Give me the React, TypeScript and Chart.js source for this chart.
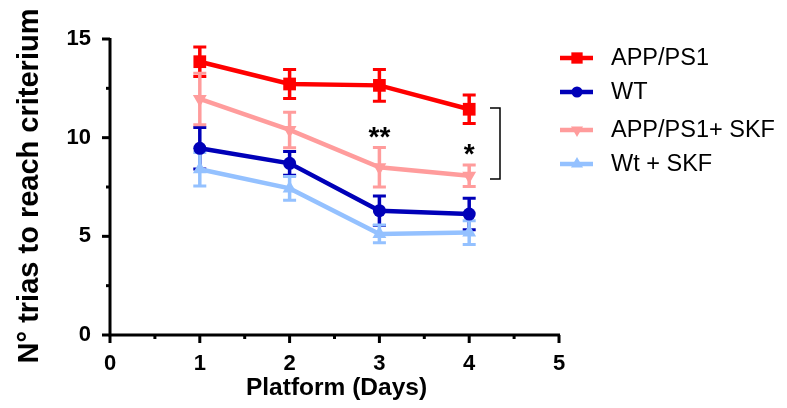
import React, { useEffect, useRef } from "react";
import { Chart, registerables } from "chart.js";

Chart.register(...registerables);

const days = [1, 2, 3, 4];
const xTicks = [0, 1, 2, 3, 4, 5];
const yTicks = [0, 5, 10, 15];

const seriesNames = ["APP/PS1", "WT", "APP/PS1+ SKF", "Wt + SKF"];
const appMean = [13.85, 12.72, 12.65, 11.44];
const appSem = [0.75, 0.74, 0.8, 0.72];
const wtMean = [9.46, 8.7, 6.3, 6.13];
const wtSem = [1.05, 0.6, 0.75, 0.8];
const appSkfMean = [11.96, 10.39, 8.5, 8.07];
const appSkfSem = [1.3, 0.9, 1.0, 0.55];
const wtSkfMean = [8.4, 7.43, 5.12, 5.19];
const wtSkfSem = [0.85, 0.6, 0.45, 0.6];

const colors = ["#ff0000", "#0000b8", "#ff9c9c", "#94c1ff"];
const pointStyles = ["rect", "circle", "triangle", "triangle"];
const pointRotations = [0, 0, 180, 0];
const pointRadii = [9, 6.5, 8, 8];

const means = [appMean, wtMean, appSkfMean, wtSkfMean];
const sems = [appSem, wtSem, appSkfSem, wtSkfSem];

const FONT = "Arial, 'Liberation Sans', sans-serif";

function drawMarker(ctx: CanvasRenderingContext2D, style: string, rot: number, x: number, y: number, r: number, color: string) {
  ctx.save();
  ctx.fillStyle = color;
  ctx.translate(x, y);
  ctx.rotate((rot * Math.PI) / 180);
  ctx.beginPath();
  if (style === "rect") {
    ctx.rect(-r * 0.707, -r * 0.707, r * 1.414, r * 1.414);
  } else if (style === "circle") {
    ctx.arc(0, 0, r, 0, Math.PI * 2);
  } else {
    ctx.moveTo(0, -r);
    ctx.lineTo(r * 0.866, r * 0.5);
    ctx.lineTo(-r * 0.866, r * 0.5);
    ctx.closePath();
  }
  ctx.fill();
  ctx.restore();
}

const decorPlugin = {
  id: "decor",
  beforeDatasetsDraw(chart: any) {
    const ctx = chart.ctx as CanvasRenderingContext2D;
    const xs = chart.scales.x;
    const ys = chart.scales.y;
    const x0 = xs.getPixelForValue(0);
    const x5 = xs.getPixelForValue(5);
    const y0 = ys.getPixelForValue(0);
    const y15 = ys.getPixelForValue(15);
    ctx.save();
    ctx.strokeStyle = "#000";
    ctx.lineWidth = 3;
    ctx.lineCap = "butt";
    ctx.beginPath();
    ctx.moveTo(x0, y15 - 1);
    ctx.lineTo(x0, y0 + 1.5);
    ctx.moveTo(x0 - 1.5, y0);
    ctx.lineTo(x5 + 1, y0);
    ctx.stroke();
    for (let v = 0; v <= 5.001; v += 0.5) {
      const px = xs.getPixelForValue(v);
      const major = Math.abs(v - Math.round(v)) < 0.01;
      ctx.beginPath();
      ctx.moveTo(px, y0);
      ctx.lineTo(px, y0 + (major ? 8 : 4));
      ctx.stroke();
    }
    for (let v = 0; v <= 15.001; v += 2.5) {
      const py = ys.getPixelForValue(v);
      const major = Math.abs(v / 5 - Math.round(v / 5)) < 0.01;
      ctx.beginPath();
      ctx.moveTo(x0, py);
      ctx.lineTo(x0 - (major ? 8 : 4), py);
      ctx.stroke();
    }
    for (let s = 0; s < means.length; s++) {
      ctx.strokeStyle = colors[s];
      for (let i = 0; i < days.length; i++) {
        const px = xs.getPixelForValue(days[i]);
        const hi = ys.getPixelForValue(means[s][i] + sems[s][i]);
        const lo = ys.getPixelForValue(means[s][i] - sems[s][i]);
        ctx.lineWidth = 3.5;
        ctx.beginPath();
        ctx.moveTo(px, hi);
        ctx.lineTo(px, lo);
        ctx.stroke();
        ctx.lineWidth = 3;
        ctx.beginPath();
        ctx.moveTo(px - 6.5, hi);
        ctx.lineTo(px + 6.5, hi);
        ctx.moveTo(px - 6.5, lo);
        ctx.lineTo(px + 6.5, lo);
        ctx.stroke();
      }
    }
    ctx.restore();
  },
  afterDraw(chart: any) {
    const ctx = chart.ctx as CanvasRenderingContext2D;
    const xs = chart.scales.x;
    const ys = chart.scales.y;
    ctx.save();
    ctx.fillStyle = "#000";
    ctx.textAlign = "center";
    ctx.textBaseline = "middle";
    ctx.font = `bold 24.5px ${FONT}`;
    ctx.fillText("Platform (Days)", xs.getPixelForValue(2.5) + 2, 388);
    ctx.save();
    ctx.translate(30, 186);
    ctx.rotate(-Math.PI / 2);
    ctx.font = `bold 29px ${FONT}`;
    ctx.fillText("N° trias to reach criterium", 0, 0);
    ctx.restore();
    ctx.font = `bold 28px ${FONT}`;
    ctx.fillText("**", xs.getPixelForValue(3), 138);
    ctx.fillText("*", xs.getPixelForValue(4), 155);
    ctx.strokeStyle = "#000";
    ctx.lineWidth = 1.5;
    ctx.beginPath();
    ctx.moveTo(490, ys.getPixelForValue(11.5));
    ctx.lineTo(500, ys.getPixelForValue(11.5));
    ctx.lineTo(500, ys.getPixelForValue(7.9));
    ctx.lineTo(490, ys.getPixelForValue(7.9));
    ctx.stroke();
    const rows = [58, 92, 130, 164];
    ctx.textAlign = "left";
    ctx.font = `23.5px ${FONT}`;
    for (let s = 0; s < seriesNames.length; s++) {
      const y = rows[s];
      ctx.strokeStyle = colors[s];
      ctx.lineWidth = 4.5;
      ctx.beginPath();
      ctx.moveTo(560, y);
      ctx.lineTo(593, y);
      ctx.stroke();
      drawMarker(ctx, pointStyles[s], pointRotations[s], 577, y, pointRadii[s] - 1, colors[s]);
      ctx.fillStyle = "#000";
      ctx.fillText(seriesNames[s], 611, y + 1);
    }
    ctx.restore();
  },
};

export default function App() {
  const ref = useRef<HTMLCanvasElement>(null);
  useEffect(() => {
    if (!ref.current) return;
    const datasets = seriesNames.map((name, s) => ({
      label: name,
      data: days.map((d, i) => ({ x: d, y: means[s][i] })),
      borderColor: colors[s],
      backgroundColor: colors[s],
      borderWidth: 4.5,
      pointStyle: pointStyles[s],
      pointRotation: pointRotations[s],
      pointRadius: pointRadii[s],
      pointBorderWidth: 0,
      showLine: true,
      tension: 0,
      clip: false as any,
    }));
    const chart = new Chart(ref.current, {
      type: "scatter",
      data: { datasets: datasets.slice().reverse() as any },
      options: {
        animation: false,
        responsive: false,
        maintainAspectRatio: false,
        layout: { padding: { top: 39, right: 228, left: 0, bottom: 0 } },
        plugins: { legend: { display: false }, tooltip: { enabled: false } },
        scales: {
          x: {
            type: "linear",
            min: 0,
            max: 5,
            grid: { display: false },
            border: { display: false },
            afterBuildTicks: (sc: any) => {
              sc.ticks = xTicks.map((v) => ({ value: v }));
            },
            afterFit: (sc: any) => {
              sc.height = 73;
            },
            ticks: {
              padding: 8,
              color: "#000",
              font: { family: FONT, size: 22, weight: "bold" },
              maxRotation: 0,
            },
          },
          y: {
            type: "linear",
            min: 0,
            max: 15,
            grid: { display: false },
            border: { display: false },
            afterBuildTicks: (sc: any) => {
              sc.ticks = yTicks.map((v) => ({ value: v }));
            },
            afterFit: (sc: any) => {
              sc.width = 110;
            },
            ticks: {
              padding: 11,
              color: "#000",
              font: { family: FONT, size: 22, weight: "bold" },
            },
          },
        },
      },
      plugins: [decorPlugin],
    });
    return () => chart.destroy();
  }, []);
  return (
    <div style={{ position: "absolute", left: 0, top: 0, width: 787, height: 408, background: "#fff" }}>
      <canvas ref={ref} width={787} height={408} />
    </div>
  );
}
